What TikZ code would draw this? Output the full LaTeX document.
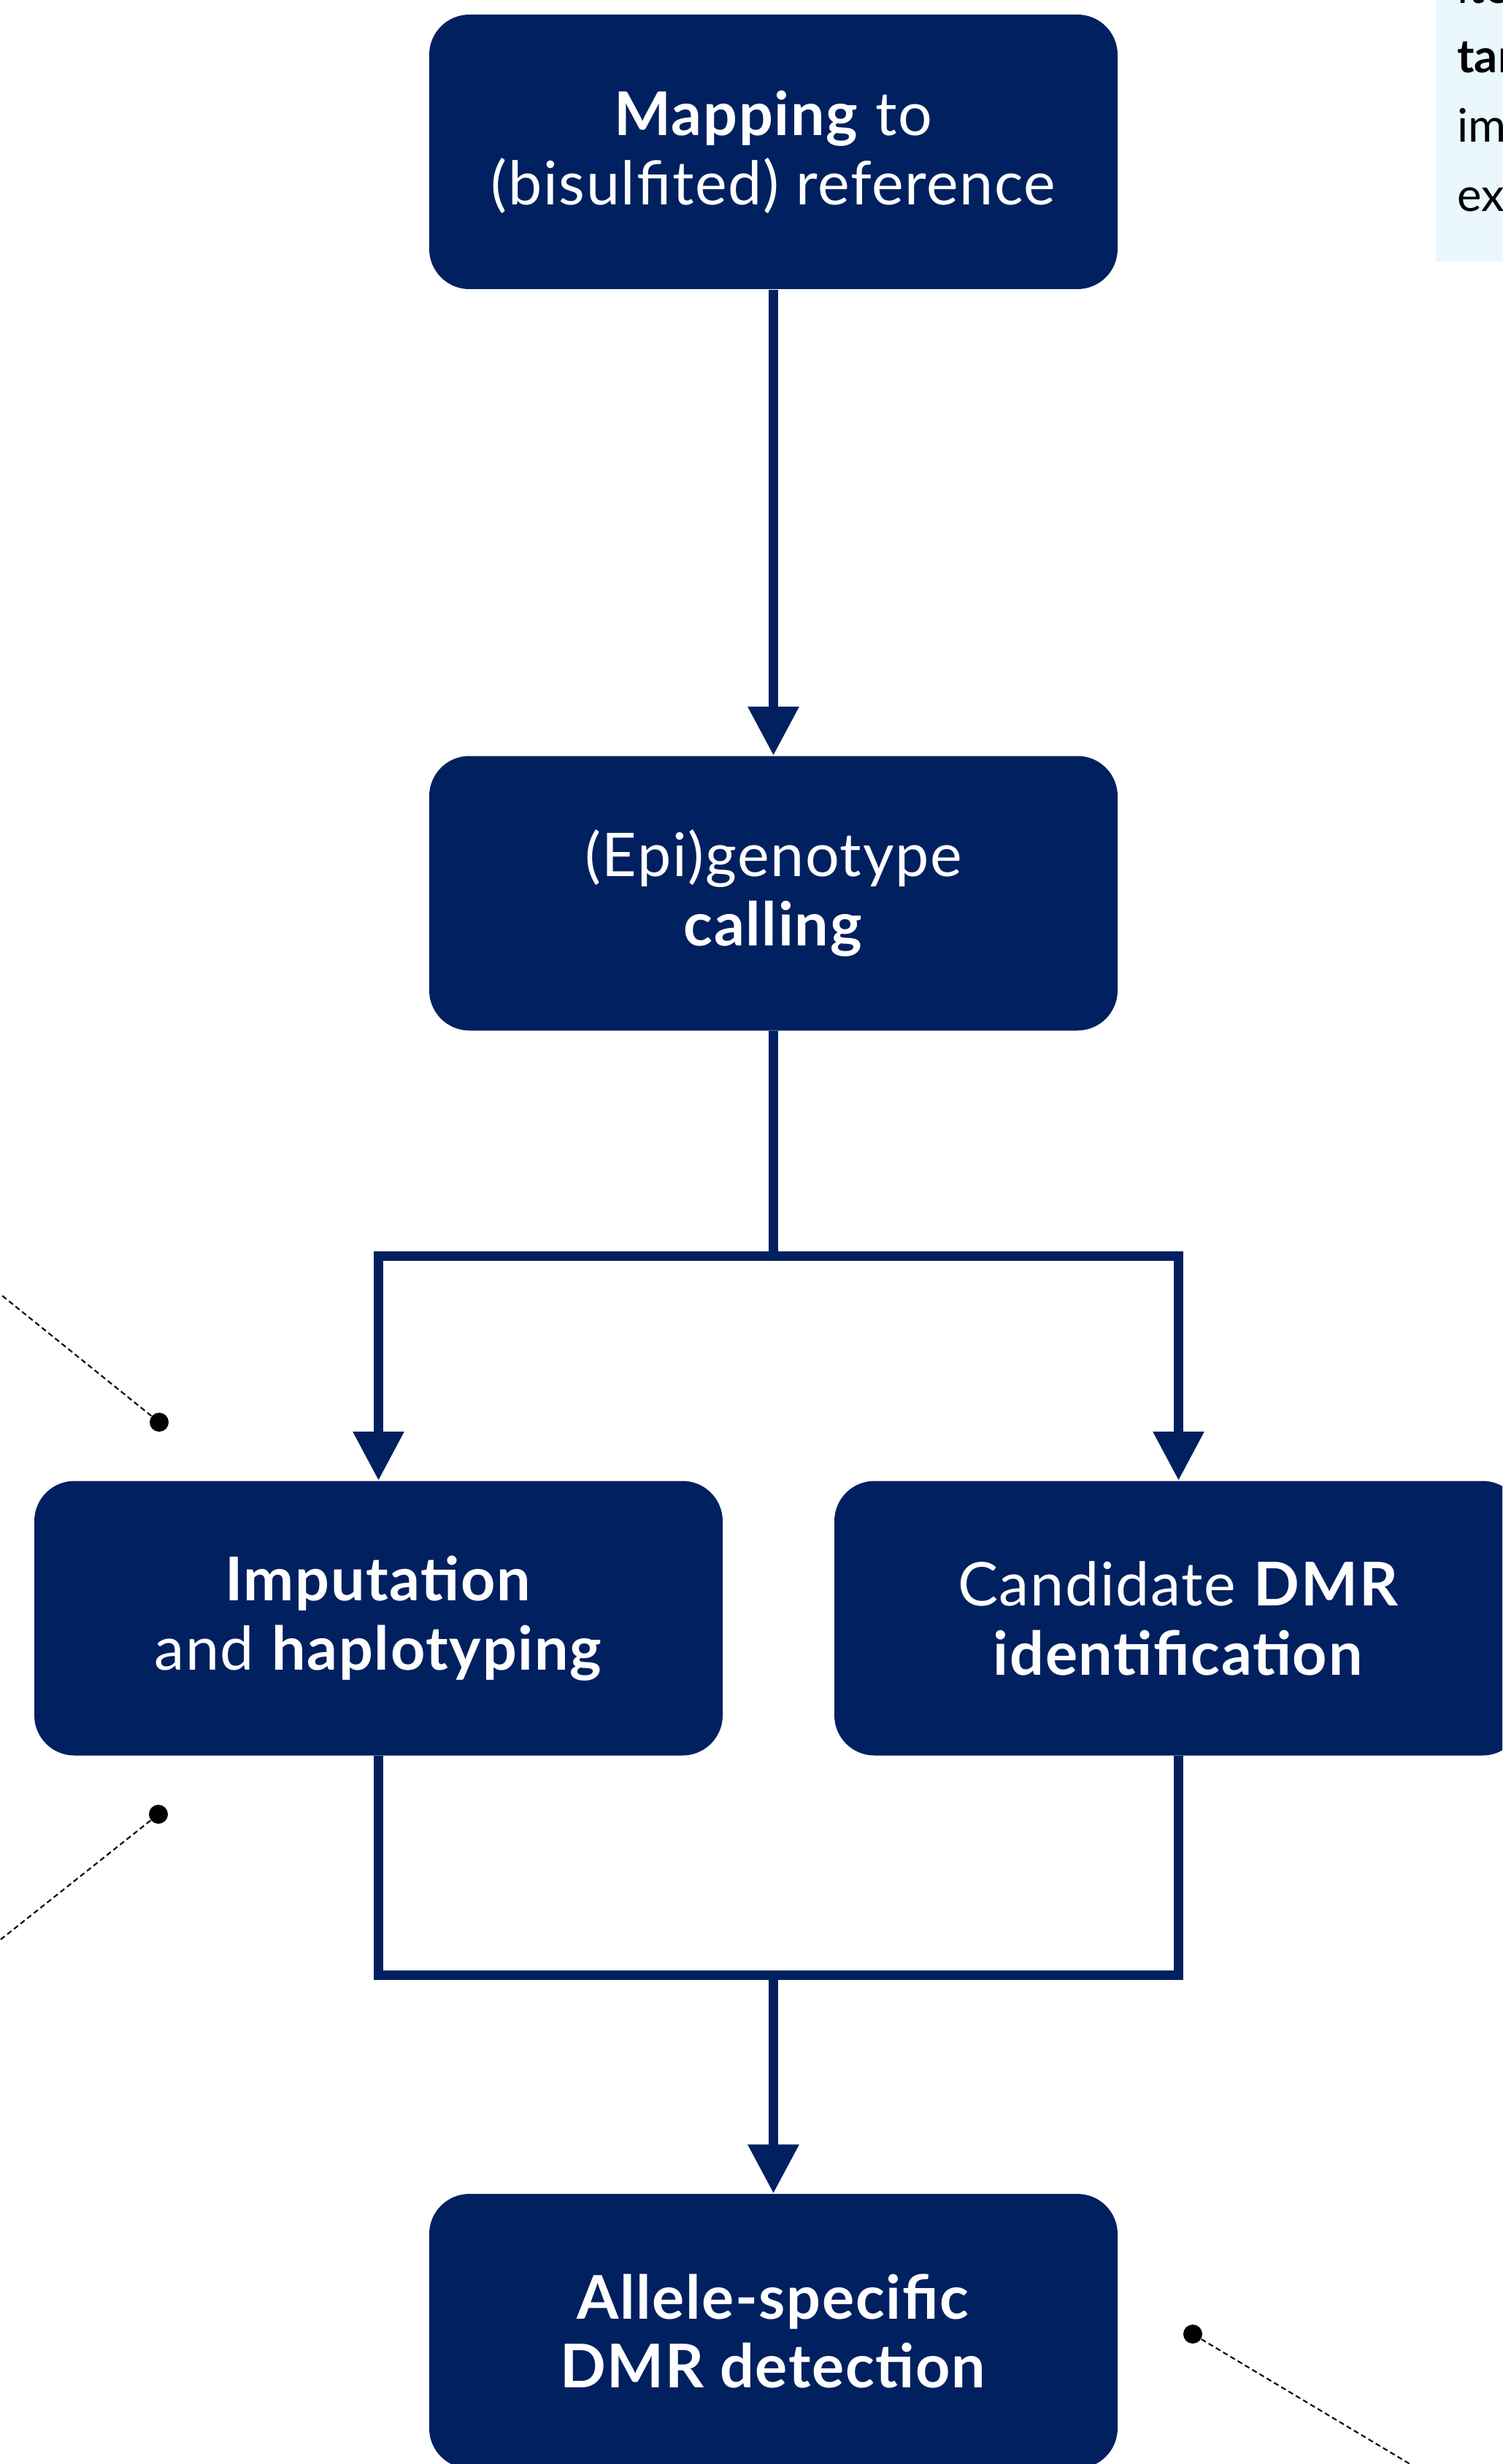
\documentclass[tikz,border=0pt]{standalone}
\usepackage{fontspec}
\setmainfont{Lato}
\usetikzlibrary{arrows.meta, positioning}
\definecolor{navy}{HTML}{002060}
\definecolor{icefill}{HTML}{EAF7FC}

\newcommand{\boxfont}{\fontsize{23.5}{27}\selectfont\addfontfeatures{LetterSpace=2}}
\newcommand{\notefont}{\fontsize{18}{27}\selectfont}

\begin{document}
\begin{tikzpicture}[
  stagebox/.style={fill=navy, text=white, rounded corners=0.55cm, minimum width=9.43cm,
                   minimum height=3.76cm, align=center, font=\boxfont, inner sep=0pt},
  link/.style={navy, line width=0.13cm},
  flow/.style={link, -{Triangle[length=0.67cm, width=0.67cm]}},
  leader/.style={black, line width=0.6pt, dash pattern=on 2pt off 1.3pt},
  pin/.style={circle, fill=black, inner sep=0pt, minimum size=0.26cm}
]

% Canvas
\useasboundingbox (0,0) rectangle (20.58,-33.75);
\clip (0,0) rectangle (20.58,-33.75);

% =========== SIDE NOTE (cut at the right edge) ===========
\fill[icefill] (19.67,0.5) rectangle (21,-3.58);
\node[anchor=base west, font=\notefont] (noteA) at (19.84,-0.05) {ite};
\node[anchor=base west, font=\notefont\bfseries] (noteB) at (19.84,-1.00) {tar};
\node[anchor=base west, font=\notefont] (noteC) at (19.84,-1.95) {imp};
\node[anchor=base west, font=\notefont] (noteD) at (19.84,-2.90) {exp};

% =========== PIPELINE ===========
\node[stagebox] (map) at (10.595,-2.08) {\textbf{Mapping} to\\(bisulfited) reference};
\node[stagebox] (call) at (10.595,-12.235) {(Epi)genotype\\\textbf{calling}};
\node[stagebox] (imp) at (5.185,-22.165) {\textbf{Imputation}\\and \textbf{haplotyping}};
\node[stagebox] (dmr) at (16.145,-22.165) {Candidate \textbf{DMR}\\\textbf{identification}};
\node[stagebox] (ale) at (10.595,-31.93) {\textbf{Allele-specific}\\\textbf{DMR detection}};

% Junctions
\coordinate (split) at (10.595,-17.2);
\coordinate (merge) at (10.595,-27.05);

% Connectors
\draw[flow] (map) -- (call);
\draw[link] (call) -- (split);
\draw[flow] (split) -| (imp);
\draw[flow] (split) -| (dmr);
\draw[link] (imp) |- (merge);
\draw[link] (dmr) |- (merge);
\draw[flow] (merge) -- (ale);

% =========== CALLOUT LEADERS ===========
\node[pin] (pinA) at (2.18,-19.48) {};
\coordinate (endA) at (-0.5,-17.32);
\draw[leader] (pinA) -- (endA);

\node[pin] (pinB) at (2.17,-24.85) {};
\coordinate (endB) at (-0.5,-26.97);
\draw[leader] (pinB) -- (endB);

\node[pin] (pinC) at (16.34,-31.97) {};
\coordinate (endC) at (19.7,-33.98);
\draw[leader] (pinC) -- (endC);

\end{tikzpicture}
\end{document}
